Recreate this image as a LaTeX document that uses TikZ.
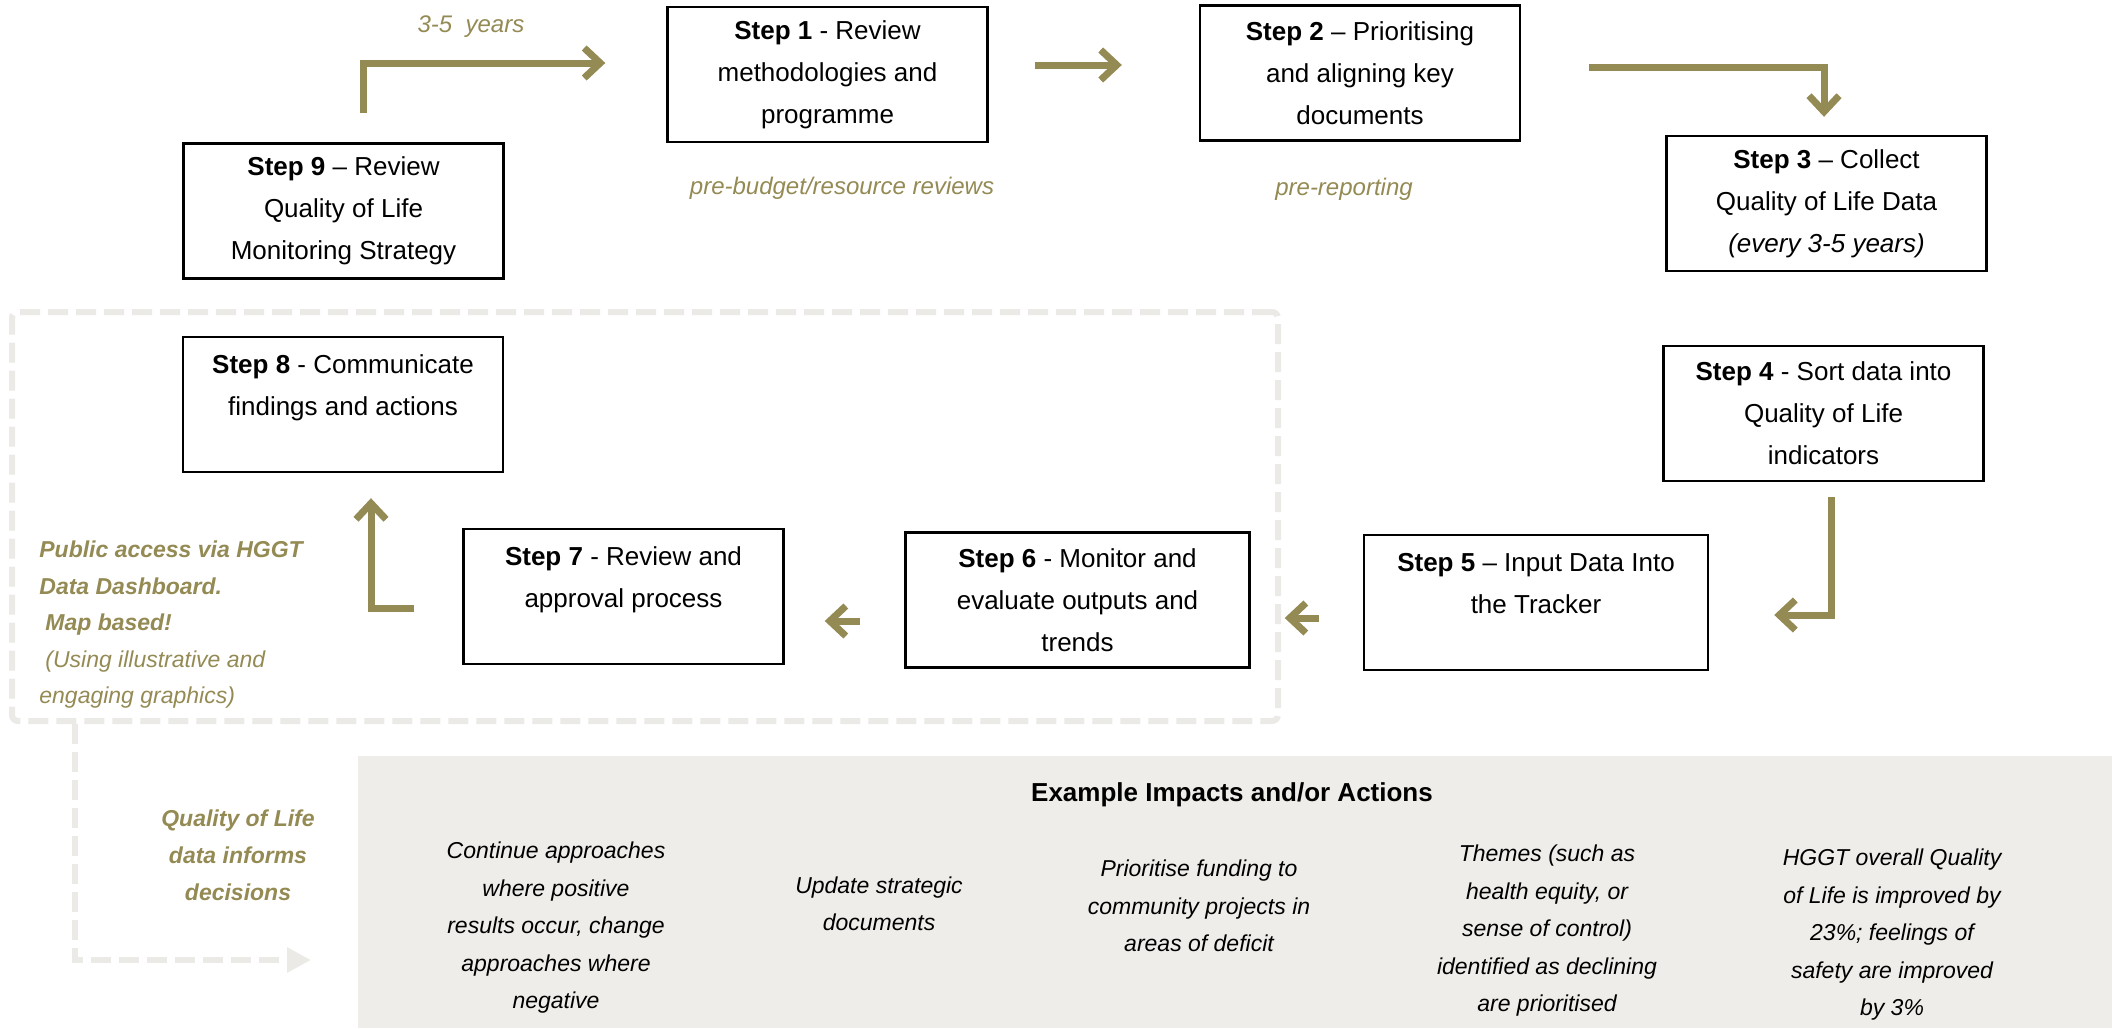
\documentclass[tikz,border=0pt]{standalone}
\usepackage{fontspec}
\setmainfont{Liberation Sans}
\usetikzlibrary{arrows.meta}

\definecolor{qolgold}{HTML}{948A54}
\definecolor{panelgrey}{HTML}{EEEDE9}
\definecolor{framegrey}{HTML}{ECEAE7}

\tikzset{
  stepbox/.style={draw, line width=1.2pt, minimum width=160pt, minimum height=67.5pt,
    align=center, inner sep=2pt, font=\fontsize{13}{21}\selectfont},
  widebox/.style={stepbox, minimum width=172pt},
  flow/.style={draw=qolgold, line width=3.5pt, -{Straight Barb[length=8pt,width=15pt]}},
  note/.style={text=qolgold, font=\fontsize{12}{18}\selectfont\itshape, inner sep=0pt},
  impact/.style={align=center, inner sep=0pt, font=\fontsize{11.5}{18.75}\selectfont\itshape}
}

\begin{document}
\begin{tikzpicture}[x=0.5pt, y=-0.5pt]
	\useasboundingbox (0,0) rectangle (2112,1028);

	% impacts panel and the dashed frame
	\node[fill=panelgrey, minimum width=877pt, minimum height=136pt, inner sep=0pt] (panel) at (1235,892) {};
	\node[draw=framegrey, line width=3pt, dash pattern=on 10pt off 4pt, rounded corners=3pt,
	      minimum width=633pt, minimum height=204.5pt, inner sep=0pt] (frame) at (645,516.5) {};

	% steps
	\node[stepbox] (s1) at (827.5,74.5) {\textbf{Step 1} - Review\\ methodologies and\\ programme};
	\node[stepbox] (s2) at (1360,73) {\textbf{Step 2} -- Prioritising\\ and aligning key\\ documents};
	\node[stepbox] (s3) at (1826.5,203.5) {\textbf{Step 3} -- Collect\\ Quality of Life Data\\ \textit{(every 3-5 years)}};
	\node[stepbox] (s4) at (1823.5,413.5) {\textbf{Step 4} - Sort data into\\ Quality of Life\\ indicators};
	\node[widebox] (s5) at (1536,602.5) {\textbf{Step 5} -- Input Data Into\\ the Tracker\\[-8pt] \strut};
	\node[widebox] (s6) at (1077.5,600) {\textbf{Step 6} - Monitor and\\ evaluate outputs and\\ trends};
	\node[stepbox] (s7) at (623.5,596.5) {\textbf{Step 7} - Review and\\ approval process\\[-8pt] \strut};
	\node[stepbox] (s8) at (343,404.5) {\textbf{Step 8} - Communicate\\ findings and actions\\[-8pt] \strut};
	\node[stepbox] (s9) at (343.5,211) {\textbf{Step 9} -- Review\\ Quality of Life\\ Monitoring Strategy};

	% cycle arrows
	\draw[flow] ([shift={(19.5,-29)}]s9.north) |- ([shift={(-61,-11.5)}]s1.west);
	\draw[flow] ([shift={(46,-9.5)}]s1.east) -- ([shift={(-77,-8)}]s2.west);
	\draw[flow] ([shift={(68,-6)}]s2.east) -| ([shift={(-2.5,-18)}]s3.north);
	\draw[flow] ([shift={(7.5,15)}]s4.south) |- ([shift={(65,12.5)}]s5.east);
	\draw[flow] ([shift={(-44,15.5)}]s5.west) -- ([shift={(34,18)}]s6.east);
	\draw[flow] ([shift={(-44,21)}]s6.west) -- ([shift={(40,24.5)}]s7.east);
	\draw[flow] ([shift={(-48,11.5)}]s7.west) -| ([shift={(28,25)}]s8.south);

	% timing notes
	\node[note] (years) at (471,27) {3-5 \ years};
	\node[note] (prebudget) at (842,188) {pre-budget/resource reviews};
	\node[note] (prereport) at (1344,189) {pre-reporting};

	% public access note
	\node[anchor=west, align=left, inner sep=0pt, text=qolgold, font=\fontsize{11.5}{18.25}\selectfont\itshape]
	  (public) at (39,625) {\textbf{Public access via HGGT}\\ \textbf{Data Dashboard.}\\ \hspace{3pt}\textbf{Map based!}\\ \hspace{3pt}(Using illustrative and\\ engaging graphics)};

	% data informs decisions
	\coordinate (infotip) at (311,960);
	\draw[draw=framegrey, line width=3pt, dash pattern=on 10pt off 4pt, -{Triangle[length=12pt,width=12pt]}, color=framegrey]
	  ([xshift=33pt]frame.south west) |- (infotip);
	\node[align=center, inner sep=0pt, text=qolgold, font=\fontsize{11.5}{18.5}\selectfont\bfseries\itshape]
	  (informs) at (238,855) {Quality of Life\\ data informs\\ decisions};

	% example impacts
	\node[inner sep=0pt, font=\fontsize{13}{16}\selectfont\bfseries] (title) at (1232,795) {Example Impacts and/or Actions};
	\node[impact] (c1) at (556,928) {Continue approaches\\ where positive\\ results occur, change\\ approaches where\\ negative};
	\node[impact] (c2) at (879,904) {Update strategic\\ documents};
	\node[impact] (c3) at (1199,906) {Prioritise funding to\\ community projects in\\ areas of deficit};
	\node[impact] (c4) at (1547,931) {Themes (such as\\ health equity, or\\ sense of control)\\ identified as declining\\ are prioritised};
	\node[impact] (c5) at (1892,935) {HGGT overall Quality\\ of Life is improved by\\ 23\%; feelings of\\ safety are improved\\ by 3\%};
\end{tikzpicture}
\end{document}
